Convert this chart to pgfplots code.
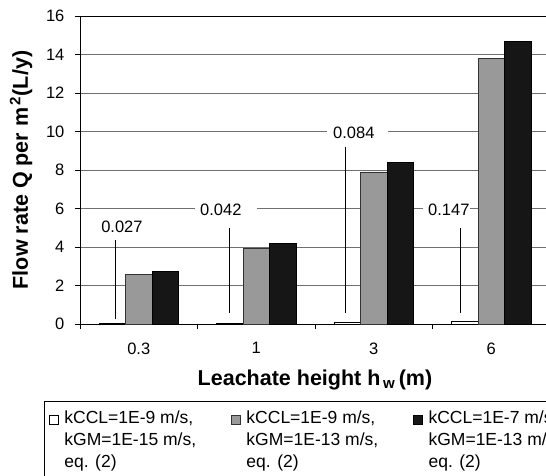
\documentclass[border=0pt]{standalone}
\usepackage{fontspec}
\setmainfont{Liberation Sans}
\usepackage{pgfplots}
\pgfplotsset{compat=1.18}
\definecolor{barblack}{HTML}{161616}
\definecolor{bargray}{HTML}{999999}
\definecolor{gridgray}{HTML}{707070}
\pgfplotsset{sqlegend/.style={legend image code/.code={\draw[##1] (0pt,0pt) rectangle (9pt,9pt);}}}
\begin{document}
\begin{tikzpicture}[x=1pt,y=1pt]
\useasboundingbox (0,0) rectangle (546,475);
\clip (0,0) rectangle (546,475);
\begin{axis}[
  at={(80pt,151pt)}, anchor=south west,
  scale only axis, width=470pt, height=308pt,
  xmin=-0.5, xmax=3.5, ymin=0, ymax=16,
  ybar=0pt, bar width=26.5pt,
  ytick={0,2,...,16},
  xtick={-0.5,0.5,1.5,2.5,3.5}, xticklabels={},
  extra x ticks={0,1,2,3}, extra x tick labels={0.3,1,3,6},
  extra x tick style={major tick length=0pt, tick label style={inner sep=0pt, anchor=north, yshift=-18.3pt}},
  tick align=outside, major tick length=5pt,
  xtick pos=bottom, ytick pos=left,
  ymajorgrids, grid style={gridgray, line width=0.8pt},
  axis line style={black, line width=0.8pt},
  tick style={black, line width=0.8pt},
  /pgf/number format/assume math mode=true,
  tick label style={font=\fontsize{16.5}{19}\selectfont},
  yticklabel style={inner sep=0pt, anchor=east, xshift=-10.4pt},
  ylabel={\textbf{Flow rate Q per m\textsuperscript{\,2}(L/y)}},
  ylabel style={font=\fontsize{21.5}{25}\selectfont, at={(axis description cs:-0.1255,0.5)}, anchor=center},
  xlabel={\textbf{Leachate height h\textsubscript{\,w}\,(m)}},
  xlabel style={font=\fontsize{21.5}{25}\selectfont, at={(axis description cs:0.5,-0.1830)}, anchor=center},
  legend columns=3,
  legend style={at={(axis description cs:-0.0766,-0.2516)}, anchor=north west,
    draw=black, fill=white, line width=0.6pt,
    inner xsep=5pt, inner ysep=9.5pt, column sep=0pt, row sep=0pt,
    nodes={inner sep=0pt, text depth=}, cells={anchor=base west},
    font=\fontsize{17.5}{21.7}\selectfont},
]
\addplot[fill=white, draw=black, line width=0.6pt, sqlegend]
  coordinates {(0,0.027) (1,0.042) (2,0.084) (3,0.147)};
\addlegendentry{\hspace*{5.5pt}\parbox[t]{167pt}{kCCL=1E-9 m/s,\\kGM=1E-15 m/s,\\eq. (2)}}
\addplot[fill=bargray, draw=black!80, line width=0.6pt, sqlegend]
  coordinates {(0,2.58) (1,3.93) (2,7.9) (3,13.78)};
\addlegendentry{\hspace*{5.5pt}\parbox[t]{167pt}{kCCL=1E-9 m/s,\\kGM=1E-13 m/s,\\eq. (2)}}
\addplot[fill=barblack, draw=black, line width=0.6pt, sqlegend]
  coordinates {(0,2.72) (1,4.2) (2,8.4) (3,14.7)};
\addlegendentry{\hspace*{5.5pt}\parbox[t]{167pt}{kCCL=1E-7 m/s,\\kGM=1E-13 m/s,\\eq. (2)}}
% value annotations with leader lines
\draw[black, line width=0.7pt] (axis cs:-0.202,4.36) -- (axis cs:-0.202,0.25);
\draw[black, line width=0.7pt] (axis cs:0.775,4.99) -- (axis cs:0.775,0.59);
\draw[black, line width=0.7pt] (axis cs:1.761,9.21) -- (axis cs:1.761,0.59);
\draw[black, line width=0.7pt] (axis cs:2.74,4.97) -- (axis cs:2.74,0.59);
\node[font=\fontsize{16.5}{19}\selectfont, inner sep=0pt, anchor=center] at (axis cs:-0.143,5.04) {0.027};
\node[font=\fontsize{16.5}{19}\selectfont, fill=white, inner xsep=0pt, inner ysep=2pt, anchor=west] at (axis cs:0.479,5.92) {\hspace*{5pt}0.042\hspace*{15pt}};
\node[font=\fontsize{16.5}{19}\selectfont, fill=white, inner xsep=0pt, inner ysep=2pt, anchor=west] at (axis cs:1.602,9.92) {\hspace*{6pt}0.084\hspace*{14pt}};
\node[font=\fontsize{16.5}{19}\selectfont, fill=white, inner xsep=0pt, inner ysep=2pt, anchor=west] at (axis cs:2.419,5.92) {\hspace*{5pt}0.147\hspace*{1pt}};
\end{axis}
\end{tikzpicture}
\end{document}
